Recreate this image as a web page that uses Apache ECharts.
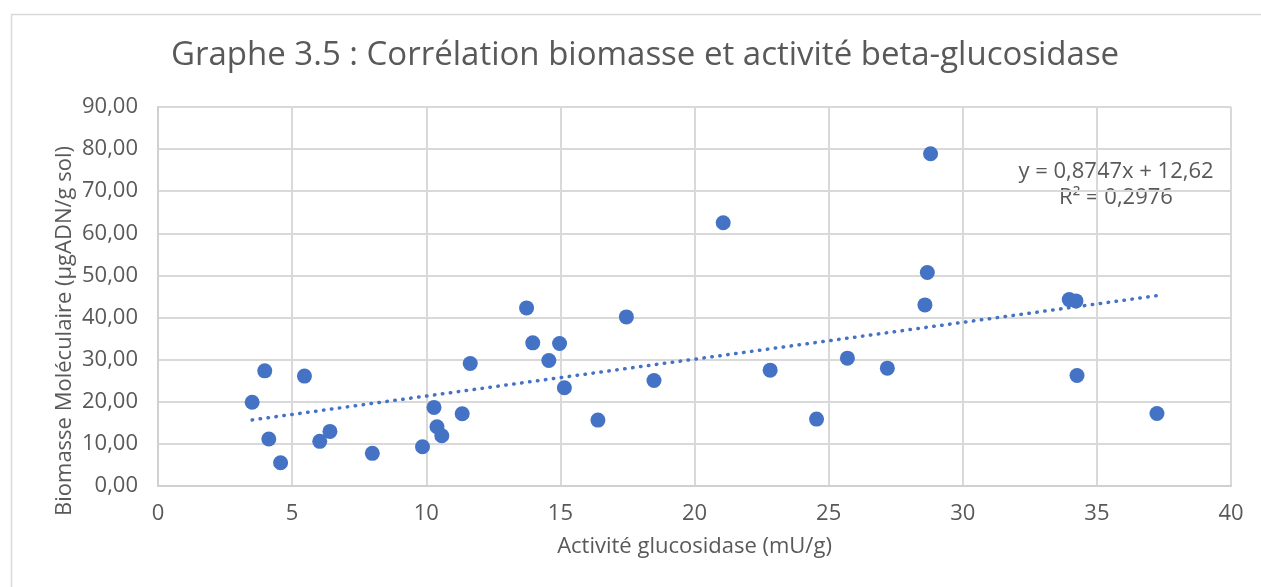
<!DOCTYPE html>
<html>
<head>
<meta charset="utf-8">
<script src="https://cdn.jsdelivr.net/npm/echarts@6/dist/echarts.min.js"></script>
<style>html,body{margin:0;padding:0;background:#fff;}#c{width:1261px;height:587px;}</style>
</head>
<body>
<div id="c"></div>
<script>
const activite = [3.51, 3.98, 4.13, 4.57, 5.46, 6.03, 6.41, 7.99, 9.86, 10.29, 10.40, 10.58, 11.34, 11.64, 13.74, 13.97, 14.57, 14.97, 15.15, 16.40, 17.46, 18.49, 21.07, 22.82, 24.55, 25.70, 27.19, 28.59, 28.68, 28.80, 33.97, 34.22, 34.26, 37.24];
const biomasse = [19.90, 27.35, 11.15, 5.53, 26.10, 10.60, 12.96, 7.75, 9.33, 18.66, 14.07, 11.94, 17.15, 29.09, 42.29, 33.99, 29.80, 33.83, 23.32, 15.65, 40.16, 25.06, 62.51, 27.51, 15.89, 30.36, 27.98, 43.00, 50.71, 78.91, 44.27, 43.95, 26.25, 17.23];
const trendSlope = 0.8747;
const trendIntercept = 12.62;
const equationLines = ['y = 0,8747x + 12,62', 'R² = 0,2976'];
const titleText = 'Graphe 3.5 : Corrélation biomasse et activité beta-glucosidase';
const xName = 'Activité glucosidase (mU/g)';
const yName = 'Biomasse Moléculaire (µgADN/g sol)';

const points = activite.map((x, i) => [x, biomasse[i]]);
const xMin = Math.min(...activite), xMax = Math.max(...activite);
const trend = [[xMin, trendSlope * xMin + trendIntercept], [xMax, trendSlope * xMax + trendIntercept]];

const font = '"Open Sans", Lato, sans-serif';
const txt = '#595959';
const chart = echarts.init(document.getElementById('c'), null, {renderer: 'canvas'});
chart.setOption({
  animation: false,
  backgroundColor: '#fff',
  title: {
    text: titleText, left: 166, top: 34,
    textStyle: {fontFamily: font, fontSize: 33, fontWeight: 'normal', color: txt}
  },
  grid: {left: 158, right: 30, top: 107, bottom: 101},
  xAxis: {
    type: 'value', min: 0, max: 40, interval: 5,
    name: xName, nameLocation: 'middle', nameGap: 50,
    nameTextStyle: {fontFamily: font, fontSize: 22, color: txt},
    axisLine: {show: true, lineStyle: {color: '#d0d0d0', width: 2}},
    axisTick: {show: false},
    axisLabel: {fontFamily: font, fontSize: 22, color: txt, margin: 17},
    splitLine: {show: true, lineStyle: {color: '#d9d9d9', width: 2}}
  },
  yAxis: {
    type: 'value', min: 0, max: 90, interval: 10,
    axisLine: {show: true, lineStyle: {color: '#d0d0d0', width: 2}},
    axisTick: {show: false},
    axisLabel: {fontFamily: font, fontSize: 22, color: txt, margin: 20,
      formatter: v => v.toFixed(2).replace('.', ',')},
    splitLine: {show: true, lineStyle: {color: '#d9d9d9', width: 2}}
  },
  graphic: [
    {type: 'rect', left: 9, top: 12, silent: true, z: -10,
      shape: {width: 1320, height: 620}, style: {fill: 'none', stroke: '#d9d9d9', lineWidth: 1.5}},
    {type: 'text', x: 65, y: 331, rotation: Math.PI / 2, silent: true,
      style: {text: yName, fontFamily: font, fontSize: 22, fill: txt, align: 'center', verticalAlign: 'middle'}},
    {type: 'text', x: 1116, y: 172, silent: true,
      style: {text: equationLines[0], fontFamily: font, fontSize: 22, fill: txt, align: 'center', verticalAlign: 'middle'}},
    {type: 'text', x: 1116, y: 198, silent: true,
      style: {text: equationLines[1], fontFamily: font, fontSize: 22, fill: txt, align: 'center', verticalAlign: 'middle'}}
  ],
  series: [
    {type: 'scatter', data: points, symbol: 'circle', symbolSize: 15,
      itemStyle: {color: '#4472C4', opacity: 1}, z: 3},
    {type: 'line', data: trend, symbol: 'none', z: 2,
      lineStyle: {color: '#4472C4', width: 3.5, type: [0.5, 7.5], cap: 'round', opacity: 1}}
  ]
});
</script>
</body>
</html>
